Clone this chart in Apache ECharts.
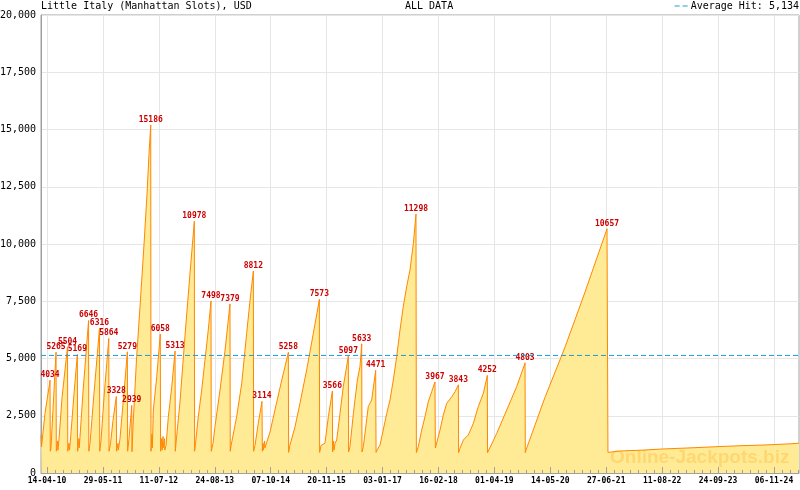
<!DOCTYPE html>
<html><head><meta charset="utf-8">
<script src="https://cdn.jsdelivr.net/npm/echarts@6/dist/echarts.min.js"></script>
<style>html,body{margin:0;padding:0;background:#fff}#c{width:800px;height:490px}</style>
</head><body><div id="c"></div>
<script>
const chartTitle = 'Little Italy (Manhattan Slots), USD';
const subTitle = 'ALL DATA';
const averageHit = 5134;
// x = days since 14-04-2010
const tickLabels = ['14-04-10','29-05-11','11-07-12','24-08-13','07-10-14','20-11-15','03-01-17','16-02-18','01-04-19','14-05-20','27-06-21','11-08-22','24-09-23','06-11-24'];
const tickStepDays = 409.23;
const minorPerStep = 7;
const axisStartDay = -44;
const axisEndDay = 5503;
const labeledPeaks = [4034,5265,5504,5169,6646,6316,5864,3328,5279,2939,15186,6058,5313,10978,7498,7379,8812,3114,5258,7573,3566,5097,5633,4471,11298,3967,3843,4252,4803,10657];
const jackpotSeries = [
[-44,1660],[-40,1150],[-15,2600],[22,4034],[24,950],
[29,1100],[44,2800],[66,5265],[68,950],
[77,1400],[80,1000],[88,1500],[110,3300],[150,5504],[152,950],
[161,1300],[165,1000],[176,1800],[198,3500],[222,5169],[224,950],
[234,1500],[236,1100],[263,3500],[304,6646],[306,950],
[315,1300],[344,3500],[384,6316],[386,950],
[395,1400],[417,3300],[452,5864],[454,950],
[465,1300],[483,2300],[507,3328],[509,950],
[520,1300],[522,1000],[534,1500],[556,3000],[588,5279],[590,950],
[600,1500],[620,2939],[622,930],
[629,2000],[656,5080],[681,7300],[710,10000],[732,12200],[746,13900],[759,15186],[761,950],
[768,1700],[771,1100],[778,2750],[803,4200],[829,6058],[831,950],
[838,1500],[842,1000],[849,1600],[851,1100],[860,1500],[862,1000],
[871,1200],[888,2460],[913,3770],[937,5313],[939,950],
[944,1300],[973,3100],[1010,6000],[1046,8700],[1078,10978],[1080,950],
[1087,1300],[1107,2460],[1132,3620],[1156,4930],[1180,6240],[1200,7498],[1202,950],
[1215,1300],[1229,2020],[1266,3620],[1303,5370],[1339,7379],[1341,950],
[1347,1200],[1388,2460],[1425,3920],[1461,6100],[1486,7550],[1510,8812],[1512,950],
[1522,1200],[1546,2170],[1573,3114],[1576,950],
[1581,1300],[1584,1000],[1592,1400],[1595,1100],[1606,1150],[1632,1790],[1668,2750],[1718,4060],[1766,5258],[1768,900],
[1778,1220],[1815,2020],[1851,3040],[1900,4500],[1949,6100],[1993,7573],[1995,900],
[2005,1200],[2034,1300],[2059,2460],[2088,3566],[2090,920],
[2097,1400],[2100,1000],[2108,1300],[2120,1440],[2144,2600],[2168,3770],[2205,5097],[2207,920],
[2217,1150],[2242,2600],[2271,4060],[2290,4640],[2303,5633],[2305,920],
[2315,1150],[2351,2900],[2376,3190],[2405,4471],[2408,900],
[2415,1000],[2437,1220],[2486,2600],[2510,3190],[2534,4060],[2559,5080],[2583,6240],[2607,7260],[2632,8140],[2656,8860],[2681,10030],[2700,11298],[2703,890],
[2717,1150],[2742,1880],[2766,2460],[2790,3110],[2815,3550],[2839,3967],[2842,1090],
[2847,1150],[2876,1880],[2900,2530],[2925,3040],[2962,3330],[2986,3550],[3010,3843],[3012,890],
[3022,1080],[3047,1440],[3083,1660],[3120,2170],[3156,2900],[3193,3480],[3222,4252],[3224,890],
[3291,1730],[3364,2750],[3437,3770],[3498,4803],[3500,890],
[3505,1000],[3644,3300],[3791,5500],[3937,7900],[4098,10657],[4105,900],
[4193,960],[4361,1000],[4508,1050],[4720,1100],[4903,1150],[5071,1190],[5240,1220],[5423,1270],[5503,1300]
];

const MONO = 'DejaVu Sans Mono';
const AXIS_GRAY = '#A0A0A0';
const AVG_BLUE = '#1E9BD7';
const avgName = 'Average Hit: ' + averageHit.toLocaleString('en-US');
const majorTickDays = tickLabels.map((_, i) => +(i * tickStepDays).toFixed(2));
const minorTickDays = [];
for (let k = 1; k * tickStepDays / minorPerStep <= axisEndDay; k++) {
  if (k % minorPerStep !== 0) minorTickDays.push(+(k * tickStepDays / minorPerStep).toFixed(2));
}
const points = jackpotSeries.map(p => {
  const item = { value: p };
  if (labeledPeaks.includes(p[1])) { item.label = { show: true }; item.symbol = 'circle'; item.symbolSize = 1; }
  return item;
});

const tickAxis = (values, len, withLine) => ({
  type: 'value', min: axisStartDay, max: axisEndDay, position: 'bottom', z: 10,
  axisLine: { show: withLine, onZero: false, lineStyle: { color: AXIS_GRAY } },
  axisTick: { show: true, inside: true, length: len, lineStyle: { color: AXIS_GRAY }, customValues: values },
  splitLine: { show: false },
  axisLabel: { show: false }
});

const chart = echarts.init(document.getElementById('c'), null, { renderer: 'canvas' });
chart.setOption({
  animation: false,
  backgroundColor: '#fff',
  title: [
    { text: chartTitle, left: 41, top: 0, padding: 0, textStyle: { fontFamily: MONO, fontSize: 10, fontWeight: 'normal', color: '#000', lineHeight: 12 } },
    { text: subTitle, left: 405, top: 0, padding: 0, textStyle: { fontFamily: MONO, fontSize: 10, fontWeight: 'normal', color: '#000', lineHeight: 12 } }
  ],
  legend: {
    data: [{ name: avgName, icon: 'path://M0,0H5V1H0Z M8,0H13V1H8Z' }],
    right: 1, top: 0, padding: 0, itemWidth: 13, itemHeight: 1.2, itemGap: 4,
    textStyle: { fontFamily: MONO, fontSize: 10, color: '#000', padding: [0, 0, 0, -2], lineHeight: 12 },
    selectedMode: false
  },
  grid: { left: 41, right: 1, top: 15, bottom: 17, show: true, borderColor: AXIS_GRAY, borderWidth: 1, outerBoundsMode: 'none', containLabel: false },
  xAxis: [
    {
      type: 'value', min: axisStartDay, max: axisEndDay, position: 'bottom',
      axisLine: { show: false, onZero: false },
      axisTick: { show: false, customValues: majorTickDays },
      splitLine: { show: true, lineStyle: { color: '#E6E6E6' } },
      axisLabel: {
        customValues: majorTickDays, margin: 4,
        fontFamily: MONO, fontSize: 8, fontWeight: 'bold', color: '#000',
        formatter: v => {
          const i = Math.round(v / tickStepDays);
          return tickLabels[i] || '';
        }
      }
    },
    tickAxis(majorTickDays, 6, true),
    tickAxis(minorTickDays, 3, false)
  ],
  yAxis: {
    type: 'value', min: 0, max: 20000, interval: 2500,
    axisLine: { show: true, onZero: false, lineStyle: { color: AXIS_GRAY } },
    axisTick: { show: false },
    splitLine: { lineStyle: { color: '#E6E6E6' } },
    axisLabel: { margin: 5, fontFamily: MONO, fontSize: 10, color: '#000', formatter: v => v.toLocaleString('en-US') }
  },
  series: [
    {
      name: 'Jackpot', type: 'line', data: points, xAxisIndex: 0,
      symbol: 'none',
      lineStyle: { color: '#FF8800', width: 1 },
      itemStyle: { color: '#FF8800' },
      areaStyle: { color: '#FFEA96', opacity: 1 },
      label: { show: false, position: 'top', distance: 1, color: '#CC0000', fontFamily: MONO, fontSize: 8, fontWeight: 'bold', formatter: p => String(p.value[1]) },
      z: 2
    },
    {
      name: avgName, type: 'line', xAxisIndex: 0,
      data: [[axisStartDay, averageHit], [axisEndDay, averageHit]],
      symbol: 'none', silent: true,
      color: AVG_BLUE,
      itemStyle: { color: AVG_BLUE },
      lineStyle: { color: AVG_BLUE, type: [5, 3], width: 1, opacity: 1 },
      emphasis: { disabled: true },
      z: 5
    }
  ],
  graphic: [{
    type: 'text', left: 610, top: 448, z: 100, silent: true,
    style: { text: 'Online-Jackpots.biz', font: 'bold 19px "Liberation Sans", Arial, sans-serif', fill: 'rgba(255,160,0,0.25)' }
  }]
});
</script></body></html>
